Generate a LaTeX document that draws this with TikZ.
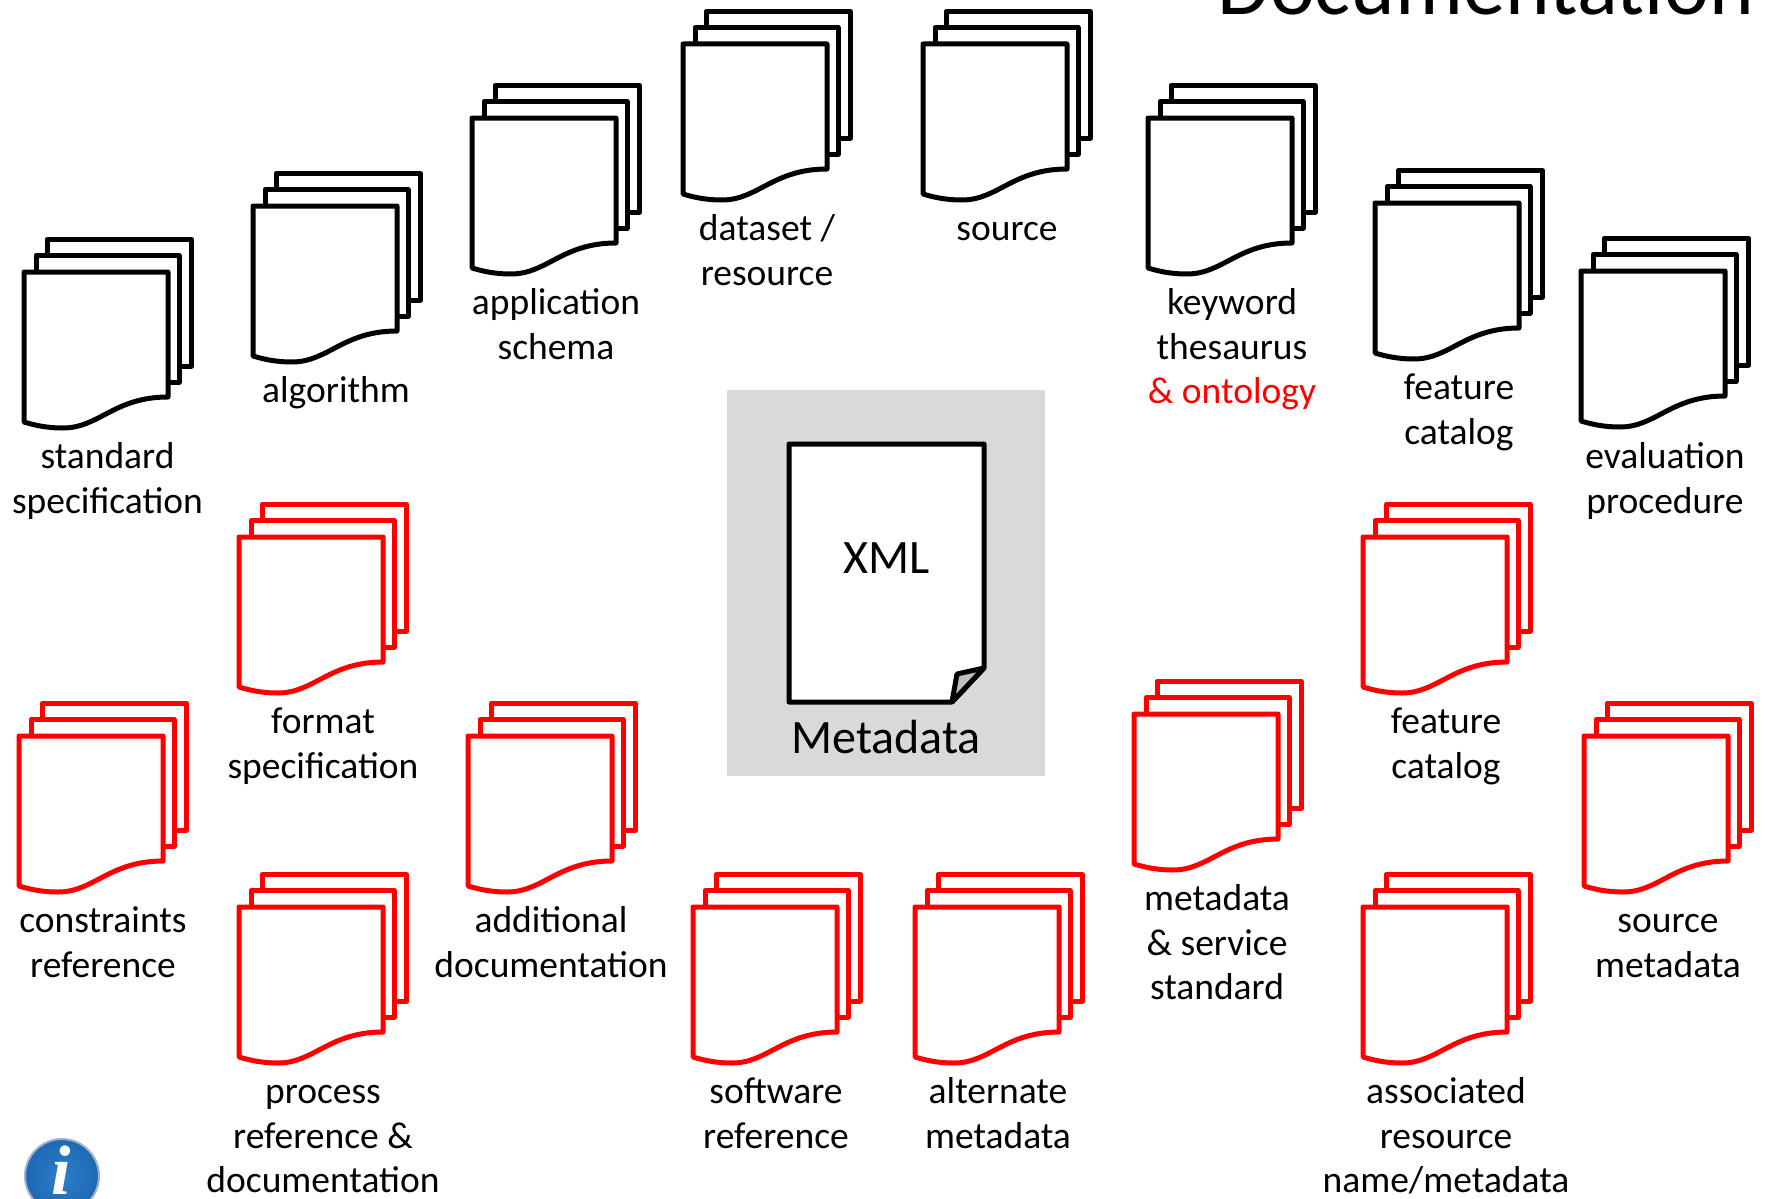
\documentclass[tikz,border=0pt]{standalone}
\usepackage{fontspec}
\setmainfont{Carlito}
\newfontfamily\iconfont{Liberation Serif}
\definecolor{panelgray}{HTML}{D9D9D9}
\definecolor{foldgray}{HTML}{BFBFBF}
\definecolor{inforim}{HTML}{9FB4C8}
\definecolor{infoblue}{HTML}{1C68B4}
\definecolor{infolight}{HTML}{2F7FCB}
\definecolor{redink}{HTML}{FF0000}
\tikzset{
  sheet/.style={draw=#1,fill=white,line width=5pt,line join=round},
  doclabel/.style={anchor=north,inner sep=0pt,align=center,font=\fontsize{37.5}{44.8}\selectfont},
  biglabel/.style={anchor=base,inner sep=0pt,font=\fontsize{48}{56}\selectfont},
}
\newcommand{\lstrut}{\rule{0pt}{30pt}}
% x y colour name labelx baseline text
\newcommand{\docstack}[7]{%
  \begin{scope}[shift={(#1,#2)}]
    \draw[sheet=#3] (23,-32.5) rectangle (167.5,94);
    \draw[sheet=#3] (12,-16.5) rectangle (155,110);
    \draw[sheet=#3] (0,0) -- (144,0) -- (144,125)
      .. controls (90,125) and (75,156) .. (39,156)
      .. controls (22,156) and (10,153) .. (0,150) -- cycle;
  \end{scope}
  \node[doclabel] (#4) at (#5,#6-30) {\lstrut#7};
}
\begin{document}
\begin{tikzpicture}[x=1pt,y=-1pt]
\useasboundingbox (0,0) rectangle (1765,1199);
\begin{scope}
\clip (0,0) rectangle (1765,1199);
\fill[white] (0,0) rectangle (1765,1199);

\node[anchor=base east,inner sep=0pt,font=\fontsize{85}{95}\selectfont] (title) at (1754,15) {Documentation};

% centre panel
\fill[panelgray] (727,390) rectangle (1045,776);
\draw[sheet=black] (789,444) -- (984,444) -- (984,668) -- (952,702) -- (789,702) -- cycle;
\draw[draw=black,fill=foldgray,line width=5pt,line join=round] (984,668) -- (957,674) -- (952,702) -- cycle;
\node[biglabel] (xml) at (887,573) {XML};
\node[biglabel] (metadata) at (886,753) {Metadata};

% black stacks
\docstack{24}{272}{black}{standard}{107.5}{468}{standard\\specification}
\docstack{253}{206}{black}{algorithm}{336}{402}{algorithm}
\docstack{472}{118}{black}{appschema}{556}{314}{application\\schema}
\docstack{683}{44}{black}{dataset}{767}{240}{dataset /\\resource}
\docstack{923}{44}{black}{source}{1007}{240}{source}
\docstack{1148}{118}{black}{keyword}{1232}{314}{keyword\\thesaurus\\\textcolor{redink}{\& ontology}}
\docstack{1375}{203}{black}{featureA}{1459}{399}{feature\\catalog}
\docstack{1581}{271}{black}{evaluation}{1665}{468}{evaluation\\procedure}

% red stacks
\docstack{239}{537}{redink}{format}{323}{733}{format\\specification}
\docstack{19}{736}{redink}{constraints}{103}{932}{constraints\\reference}
\docstack{468}{736}{redink}{additional}{551}{932}{additional\\documentation}
\docstack{239}{907}{redink}{process}{323}{1103}{process\\reference \&\\documentation}
\docstack{693}{907}{redink}{software}{776}{1103}{software\\reference}
\docstack{915}{907}{redink}{alternate}{998}{1103}{alternate\\metadata}
\docstack{1134}{714}{redink}{mdstandard}{1217}{910}{metadata\\\& service\\standard}
\docstack{1363}{537}{redink}{featureB}{1446}{733}{feature\\catalog}
\docstack{1584}{736}{redink}{sourcemd}{1668}{932}{source\\metadata}
\docstack{1363}{907}{redink}{associated}{1446}{1103}{associated\\resource\\name/metadata}

% info icon
\shade[inner color=infolight,outer color=infoblue,draw=inforim,line width=2pt] (62,1176) circle (37);
\node[inner sep=0pt,text=white,font=\iconfont\bfseries\itshape\fontsize{70}{70}\selectfont] (info) at (61,1170) {i};
\end{scope}
\end{tikzpicture}
\end{document}
